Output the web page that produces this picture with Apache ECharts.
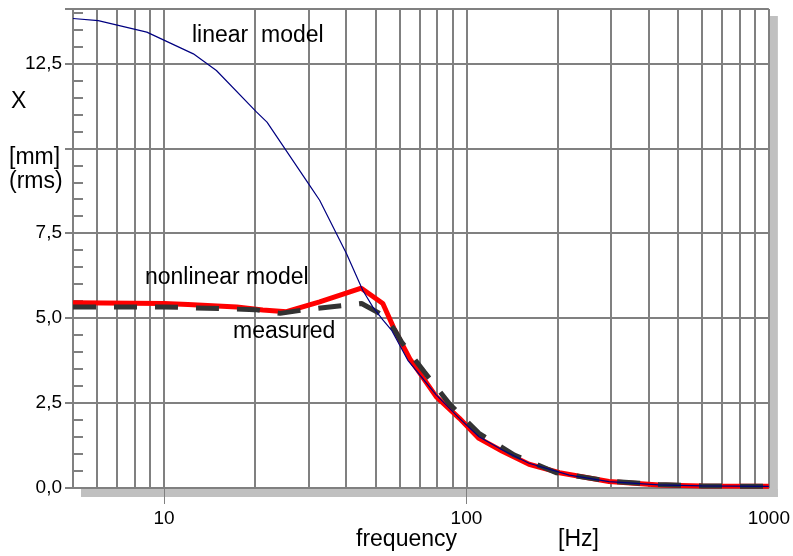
<!DOCTYPE html>
<html>
<head>
<meta charset="utf-8">
<style>
  html, body { margin: 0; padding: 0; background: #fff; }
  #chart { width: 793px; height: 556px; }
</style>
<script src="https://cdn.jsdelivr.net/npm/echarts@6/dist/echarts.min.js"></script>
</head>
<body>
<div id="chart"></div>
<script>
// linear model
var linearFreq = [5, 6.06, 8.77, 12.5, 14.9, 20.2, 21.9, 30.3, 32.7, 40.1, 45.4, 49, 53, 56.5, 64, 79.4, 94.8, 110, 131.5, 161, 219, 296, 433, 600, 1000];
var linearX = [13.82, 13.76, 13.42, 12.78, 12.29, 11.07, 10.77, 8.91, 8.47, 6.9, 5.82, 5.33, 4.94, 4.65, 3.76, 2.74, 2.05, 1.51, 1.12, 0.73, 0.38, 0.19, 0.09, 0.06, 0.05];

// nonlinear model
var nonlinFreq = [5, 10, 12, 17.4, 21.2, 25.4, 32.7, 44.9, 52.9, 57.9, 65, 79.4, 94.8, 110, 131.5, 161, 203, 296, 433, 600, 1000];
var nonlinX = [5.45, 5.43, 5.40, 5.33, 5.24, 5.19, 5.48, 5.88, 5.43, 4.65, 3.80, 2.69, 2.05, 1.46, 1.08, 0.70, 0.45, 0.19, 0.09, 0.06, 0.05];

// measured
var measFreq = [5, 10, 15.3, 20, 24.2, 28.8, 37.2, 45, 52.8, 57.9, 61, 72.5, 87.6, 110, 144, 198, 296, 433, 600, 1000];
var measX = [5.33, 5.33, 5.28, 5.25, 5.14, 5.24, 5.35, 5.43, 5.09, 4.65, 4.30, 3.42, 2.49, 1.61, 0.97, 0.45, 0.20, 0.10, 0.06, 0.05];

// axes
var xLabelValues = [10, 100, 1000];
var xTickValues = [10, 100];
var gridFreqs = [6, 7, 8, 9, 10, 20, 30, 40, 50, 60, 70, 80, 90, 100, 200, 300, 400, 500, 600, 700, 800, 900, 1000];
var yMin = 0, yMax = 14.1;

var gridColor = '#808080';
var font = '"Liberation Sans", Arial, sans-serif';

function pairs(freq, vals) {
    return freq.map(function (f, i) { return [f, vals[i]]; });
}

var chart = echarts.init(document.getElementById('chart'));

var option = {
    animation: false,
    grid: { left: 73, right: 23, top: 9, bottom: 68 },
    xAxis: {
        type: 'log', logBase: 10, min: 5, max: 1000,
        axisLine: { show: true, onZero: false, lineStyle: { color: gridColor, width: 2 } },
        axisTick: { show: true, customValues: xTickValues, length: 16, lineStyle: { color: gridColor, width: 1 } },
        axisLabel: {
            customValues: xLabelValues, color: '#000', fontSize: 19, fontFamily: font, margin: 21,
            formatter: function (v) { return String(Math.round(v)); }
        },
        splitLine: { show: false }
    },
    yAxis: [
        {
            // minor ticks, inside
            type: 'value', min: yMin, max: yMax, interval: 0.5, position: 'left',
            axisLine: { show: true, lineStyle: { color: gridColor, width: 2 } },
            axisTick: { show: true, inside: true, length: 10, lineStyle: { color: gridColor, width: 2 } },
            axisLabel: { show: false },
            splitLine: { show: false }
        },
        {
            // major grid + labels
            type: 'value', min: yMin, max: yMax, interval: 2.5, position: 'left',
            axisLine: { show: false },
            axisTick: { show: true, length: 8, lineStyle: { color: gridColor, width: 2 } },
            axisLabel: {
                color: '#000', fontSize: 19, fontFamily: font, margin: 11,
                padding: [0, 0, 12, 0],
                formatter: function (v) {
                    if (v === 10 || v > 13) return '';
                    return v.toFixed(1).replace('.', ',');
                }
            },
            splitLine: { show: true, lineStyle: { color: gridColor, width: 2 } }
        }
    ],
    series: [
        {
            name: 'grid', type: 'line', data: [],
            markLine: {
                silent: true, symbol: 'none', z: 1,
                label: { show: false },
                emphasis: { disabled: true },
                lineStyle: { color: gridColor, width: 2, type: 'solid' },
                data: gridFreqs.map(function (f) { return { xAxis: f }; })
            }
        },
        {
            name: 'nonlinear model', type: 'line', z: 3,
            data: pairs(nonlinFreq, nonlinX),
            symbol: 'none',
            lineStyle: { color: '#ff0000', width: 5 }
        },
        {
            name: 'measured', type: 'line', z: 4,
            data: pairs(measFreq, measX),
            symbol: 'none',
            lineStyle: { color: '#333333', width: 5, type: [23, 18], cap: 'butt' }
        },
        {
            name: 'linear model', type: 'line', z: 5,
            data: pairs(linearFreq, linearX),
            symbol: 'none',
            lineStyle: { color: '#000080', width: 1.2 }
        }
    ]
};
chart.setOption(option);

// shadow + texts
var tl = chart.convertToPixel({ xAxisIndex: 0, yAxisIndex: 0 }, [5, yMax]);
var br = chart.convertToPixel({ xAxisIndex: 0, yAxisIndex: 0 }, [1000, yMin]);
var shadow = '#c0c0c0';

function label(text, x, y) {
    return {
        type: 'text', x: x, y: y, z: 10,
        style: { text: text, fill: '#000', font: '23px ' + font, verticalAlign: 'middle' }
    };
}

chart.setOption({
    graphic: [
        { type: 'rect', z: -1, shape: { x: br[0] + 1, y: tl[1] + 7, width: 8, height: br[1] - tl[1] + 2 }, style: { fill: shadow } },
        { type: 'rect', z: -1, shape: { x: tl[0] + 8, y: br[1] + 1, width: br[0] - tl[0] + 1, height: 8 }, style: { fill: shadow } },
        label('X', 11, 102),
        label('[mm]', 9, 158),
        label('(rms)', 9, 182),
        label('linear  model', 192, 36),
        label('nonlinear model', 145, 278),
        label('measured', 233, 332),
        label('frequency', 356, 540),
        label('[Hz]', 558, 540)
    ]
});
</script>
</body>
</html>
